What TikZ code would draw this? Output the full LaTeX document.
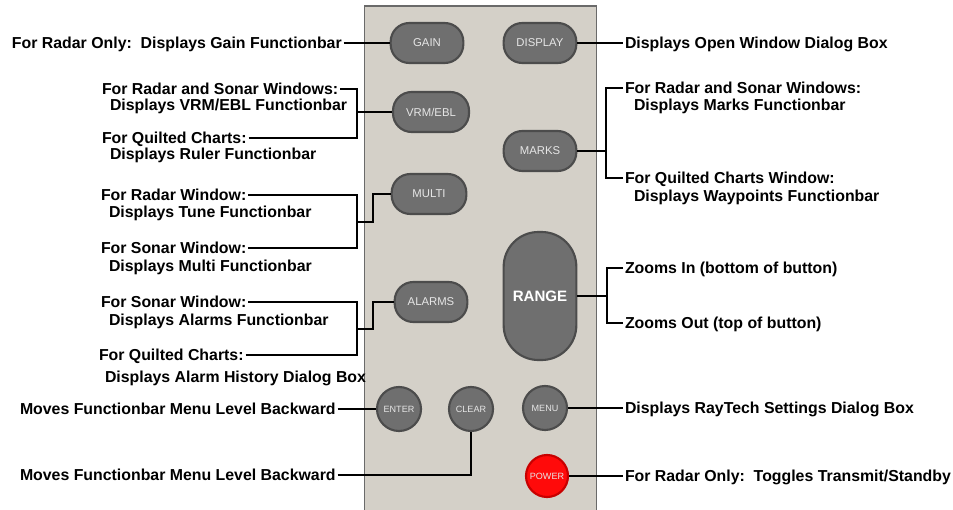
\documentclass[tikz,border=0pt]{standalone}
\usepackage{fontspec}
\setmainfont{Liberation Sans}
\definecolor{panelc}{HTML}{D4D0C8}
\definecolor{paneledge}{HTML}{6A6A6A}
\definecolor{btnfill}{HTML}{6F6F6F}
\definecolor{btnedge}{HTML}{4C4C4C}
\definecolor{btntext}{HTML}{E6E6E6}
\definecolor{pwrfill}{HTML}{FF0A0A}
\definecolor{pwredge}{HTML}{C80000}
\begin{document}
\begin{tikzpicture}[x=0.75pt,y=-0.75pt,
  btnbase/.style={draw=btnedge, fill=btnfill, line width=1.6pt, inner sep=0pt, text=btntext},
  pill/.style={btnbase, rectangle, rounded corners=14pt, minimum width=54.5pt, minimum height=30pt,
    font=\fontsize{8.5}{10}\selectfont},
  tallbtn/.style={btnbase, rectangle, rounded corners=26pt, minimum width=54.5pt, minimum height=96pt,
    text=white, font=\bfseries\fontsize{11.3}{13}\selectfont},
  rnd/.style={btnbase, circle, minimum size=33pt, font=\fontsize{6.8}{8}\selectfont},
  lbl/.style={inner sep=0pt, outer sep=1.5pt, text height=8.6pt, text depth=0pt,
    font=\bfseries\fontsize{11.9}{14}\selectfont},
  conn/.style={draw=black, line width=1.15pt}]
\useasboundingbox (0,0) rectangle (953,510);
% panel
\fill[panelc] (364.5,6) rectangle (596.5,510);
\draw[paneledge, line width=0.9pt] (364.5,510) -- (364.5,6) -- (596.5,6) -- (596.5,510);
% buttons
\node[pill] (gain) at (427,43) {GAIN};
\node[pill] (display) at (540,43) {DISPLAY};
\node[pill, minimum width=57pt] (vrm) at (431,112) {VRM/EBL};
\node[pill] (marks) at (540,151) {MARKS};
\node[pill, minimum width=56pt] (multi) at (429,194) {MULTI};
\node[tallbtn] (range) at (540,296) {RANGE};
\node[pill] (alarms) at (431,302) {ALARMS};
\node[rnd] (enter) at (399,409) {ENTER};
\node[rnd] (clear) at (471,409) {CLEAR};
\node[rnd] (menu) at (545,408) {MENU};
\node[rnd, draw=pwredge, fill=pwrfill, minimum size=31.5pt] (power) at (547,476) {POWER};
% left labels
\node[lbl, anchor=west] (l1) at (10,43) {For Radar Only:\ \ Displays Gain Functionbar};
\node[lbl, anchor=west] (v1) at (100,89) {For Radar and Sonar Windows:};
\node[lbl, anchor=west] (v2) at (108,105) {Displays VRM/EBL Functionbar};
\node[lbl, anchor=west] (v3) at (100,138) {For Quilted Charts:};
\node[lbl, anchor=west] (v4) at (108,154) {Displays Ruler Functionbar};
\node[lbl, anchor=west] (m1) at (99,195) {For Radar Window:};
\node[lbl, anchor=west] (m2) at (107,212) {Displays Tune Functionbar};
\node[lbl, anchor=west] (m3) at (99,248) {For Sonar Window:};
\node[lbl, anchor=west] (m4) at (107,266) {Displays Multi Functionbar};
\node[lbl, anchor=west] (a1) at (99,302) {For Sonar Window:};
\node[lbl, anchor=west] (a2) at (107,320) {Displays Alarms Functionbar};
\node[lbl, anchor=west] (a3) at (97,355) {For Quilted Charts:};
\node[lbl, anchor=west] (a4) at (103,377) {Displays Alarm History Dialog Box};
\node[lbl, anchor=west] (e1) at (18,409) {Moves Functionbar Menu Level Backward};
\node[lbl, anchor=west] (e2) at (18,475) {Moves Functionbar Menu Level Backward};
% right labels
\node[lbl, anchor=west] (r1) at (623,43) {Displays Open Window Dialog Box};
\node[lbl, anchor=west] (r2) at (623,88) {For Radar and Sonar Windows:};
\node[lbl, anchor=west] (r3) at (632,105) {Displays Marks Functionbar};
\node[lbl, anchor=west] (r4) at (623,178) {For Quilted Charts Window:};
\node[lbl, anchor=west] (r5) at (632,196) {Displays Waypoints Functionbar};
\node[lbl, anchor=west] (r6) at (623,268) {Zooms In (bottom of button)};
\node[lbl, anchor=west] (r7) at (623,323) {Zooms Out (top of button)};
\node[lbl, anchor=west] (r8) at (623,408) {Displays RayTech Settings Dialog Box};
\node[lbl, anchor=west] (r9) at (623,476) {For Radar Only:\ \ Toggles Transmit/Standby};
% junctions
\coordinate (jv) at (357,112);
\coordinate (jm) at (357,222);
\coordinate (jm2) at (373,222);
\coordinate (ja) at (357,329);
\coordinate (ja2) at (373,329);
\coordinate (jk) at (606,151);
\coordinate (jr) at (607,296);
% connectors
\draw[conn] (l1.east) -- (gain.west);
\draw[conn] (v1.east) -| (jv);
\draw[conn] (v3.east) -| (jv);
\draw[conn] (jv) -- (vrm.west);
\draw[conn] (m1.east) -| (jm);
\draw[conn] (m3.east) -| (jm);
\draw[conn] (jm) -- (jm2) |- (multi.west);
\draw[conn] (a1.east) -| (ja);
\draw[conn] (a3.east) -| (ja);
\draw[conn] (ja) -- (ja2) |- (alarms.west);
\draw[conn] (e1.east) -- (enter.west);
\draw[conn] (e2.east) -| (clear.south);
\draw[conn] (display.east) -- (r1.west);
\draw[conn] (marks.east) -- (jk);
\draw[conn] (r2.west) -| (jk);
\draw[conn] (r4.west) -| (jk);
\draw[conn] (range.east) -- (jr);
\draw[conn] (r6.west) -| (jr);
\draw[conn] (r7.west) -| (jr);
\draw[conn] (menu.east) -- (r8.west);
\draw[conn] (power.east) -- (r9.west);
\end{tikzpicture}
\end{document}
